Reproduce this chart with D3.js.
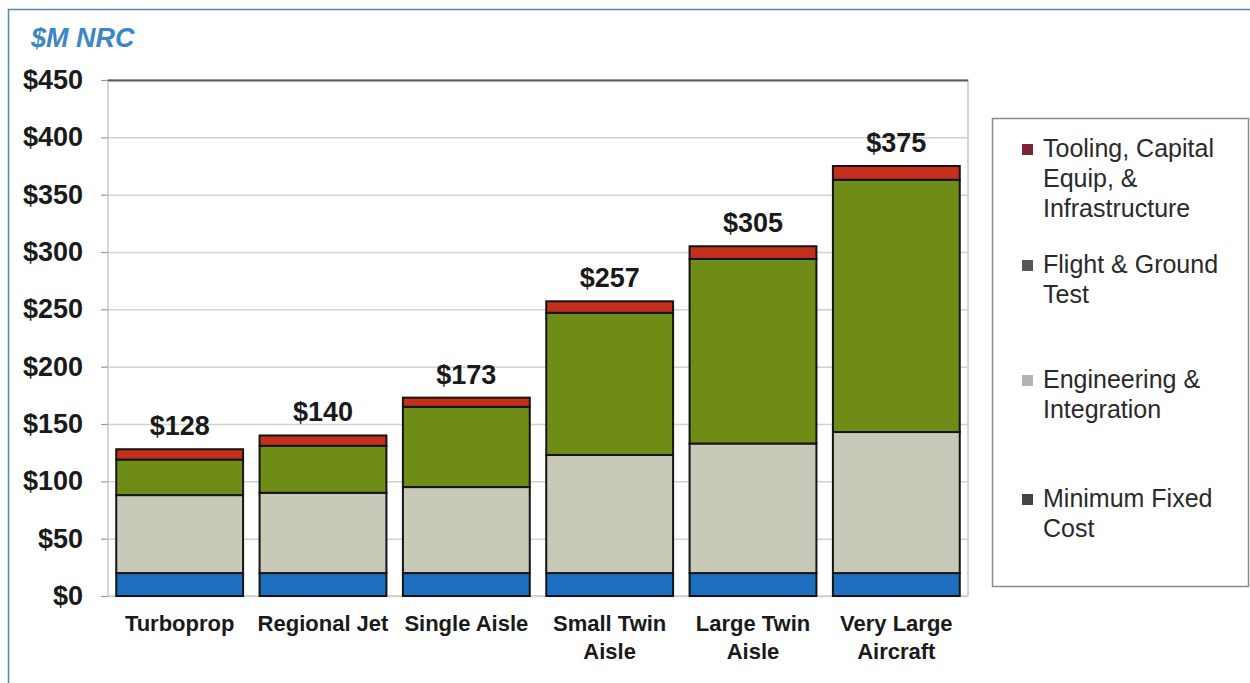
<!DOCTYPE html>
<html>
<head>
<meta charset="utf-8">
<script src="https://cdn.jsdelivr.net/npm/d3@7"></script>
<style>
  html, body { margin: 0; padding: 0; background: #ffffff; }
  svg { display: block; font-family: "Liberation Sans", Arial, sans-serif; }
</style>
</head>
<body>
<svg id="chart" width="1250" height="683"></svg>
<script>
// Aircraft classes along the x axis (line breaks marked with \n)
const categories = ["Turboprop", "Regional Jet", "Single Aisle", "Small Twin\nAisle", "Large Twin\nAisle", "Very Large\nAircraft"];

// Non-recurring cost components, $M, stacked bottom to top
const minimumFixedCost = [20, 20, 20, 20, 20, 20];
const engineeringIntegration = [68, 70, 75, 103, 113, 123];
const flightGroundTest = [31, 41, 70, 124, 161, 220];
const toolingCapitalInfra = [9, 9, 8, 10, 11, 12];

// Y axis tick values
const yTicks = [0, 50, 100, 150, 200, 250, 300, 350, 400, 450];

const seriesKeys = ["fixed", "eng", "test", "tool"];
const barColors = ["#1f6fc0", "#c9c9b9", "#6f8c17", "#c4301c"];
const legendMarkColors = ["#454545", "#b4b4b4", "#555555", "#7a2436"];

const rows = categories.map((c, i) => ({
  cat: c,
  fixed: minimumFixedCost[i],
  eng: engineeringIntegration[i],
  test: flightGroundTest[i],
  tool: toolingCapitalInfra[i]
}));

const svg = d3.select("#chart");
const W = 1250, H = 683;
const plot = { left: 108, right: 968, top: 80, bottom: 596 };

// outer frame
svg.append("rect")
  .attr("x", 8.5).attr("y", 9.5)
  .attr("width", W + 10).attr("height", H + 10)
  .attr("fill", "none").attr("stroke", "#4f86b4").attr("stroke-width", 1.5);

// title
svg.append("text")
  .attr("x", 31).attr("y", 47)
  .attr("font-size", 27).attr("font-weight", "bold").attr("font-style", "italic")
  .attr("fill", "#3b86c6")
  .text("$M NRC");

const x = d3.scaleBand()
  .domain(categories)
  .range([plot.left, plot.right])
  .paddingInner(0.115)
  .paddingOuter(0.0575);

const y = d3.scaleLinear()
  .domain([0, 450])
  .range([plot.bottom, plot.top]);

// plot area frame
svg.append("rect")
  .attr("x", plot.left).attr("y", plot.top)
  .attr("width", plot.right - plot.left).attr("height", plot.bottom - plot.top)
  .attr("fill", "#ffffff").attr("stroke", "#c8c8c8").attr("stroke-width", 1.5);

// gridlines
const grid = svg.append("g")
  .attr("transform", `translate(${plot.left},0)`)
  .call(d3.axisLeft(y).tickValues(yTicks).tickSize(-(plot.right - plot.left)).tickFormat(""));
grid.select(".domain").remove();
grid.selectAll(".tick line")
  .attr("stroke", d => d === 450 ? "#5a5a5a" : "#d2d2d2")
  .attr("stroke-width", d => d === 450 ? 2 : 1.5);

// y axis labels and outer tick marks
const yAxis = svg.append("g")
  .attr("transform", `translate(${plot.left},0)`)
  .call(d3.axisLeft(y).tickValues(yTicks).tickSize(7).tickPadding(18).tickFormat(d => "$" + d));
yAxis.select(".domain").remove();
yAxis.selectAll(".tick line").attr("stroke", "#9a9a9a").attr("stroke-width", 1.2);
yAxis.selectAll(".tick text")
  .attr("font-family", "\"Liberation Sans\", Arial, sans-serif")
  .attr("font-size", 27).attr("font-weight", "bold").attr("fill", "#1a1a1a");

// stacked bars
const stacked = d3.stack().keys(seriesKeys)(rows);
svg.append("g").selectAll("g")
  .data(stacked)
  .join("g")
  .attr("fill", (d, i) => barColors[i])
  .selectAll("rect")
  .data(d => d)
  .join("rect")
  .attr("x", d => x(d.data.cat))
  .attr("width", x.bandwidth())
  .attr("y", d => y(d[1]))
  .attr("height", d => y(d[0]) - y(d[1]))
  .attr("stroke", "#141414")
  .attr("stroke-width", 2);

// totals above each bar
svg.append("g").selectAll("text")
  .data(rows)
  .join("text")
  .attr("x", d => x(d.cat) + x.bandwidth() / 2)
  .attr("y", d => y(d.fixed + d.eng + d.test + d.tool) - 14)
  .attr("text-anchor", "middle")
  .attr("font-size", 27).attr("font-weight", "bold").attr("fill", "#1a1a1a")
  .text(d => "$" + (d.fixed + d.eng + d.test + d.tool));

// category labels
const xl = svg.append("g").selectAll("text")
  .data(categories)
  .join("text")
  .attr("x", d => x(d) + x.bandwidth() / 2)
  .attr("y", 631)
  .attr("text-anchor", "middle")
  .attr("font-size", 22).attr("font-weight", "bold").attr("fill", "#1a1a1a");
xl.selectAll("tspan")
  .data(d => d.split("\n"))
  .join("tspan")
  .attr("x", function () { return d3.select(this.parentNode).attr("x"); })
  .attr("dy", (d, i) => i === 0 ? 0 : 28)
  .text(d => d);

// legend
const legend = svg.append("g");
legend.append("rect")
  .attr("x", 992.5).attr("y", 118.5)
  .attr("width", 256).attr("height", 468)
  .attr("fill", "#ffffff").attr("stroke", "#8a8a8a").attr("stroke-width", 1.5);

const legendLines = [
  ["Tooling, Capital", "Equip, &", "Infrastructure"],
  ["Flight & Ground", "Test"],
  ["Engineering &", "Integration"],
  ["Minimum Fixed", "Cost"]
];
const legendOrder = [3, 2, 1, 0];
const legendBaselines = [157, 273, 388, 507];

legendOrder.forEach((s, k) => {
  const g = legend.append("g");
  g.append("rect")
    .attr("x", 1022).attr("y", legendBaselines[k] - 13)
    .attr("width", 11).attr("height", 11)
    .attr("fill", legendMarkColors[s]);
  const t = g.append("text")
    .attr("x", 1043).attr("y", legendBaselines[k])
    .attr("font-size", 25).attr("fill", "#2a2a2a");
  t.selectAll("tspan")
    .data(legendLines[k])
    .join("tspan")
    .attr("x", 1043)
    .attr("dy", (d, i) => i === 0 ? 0 : 30)
    .text(d => d);
});
</script>
</body>
</html>
